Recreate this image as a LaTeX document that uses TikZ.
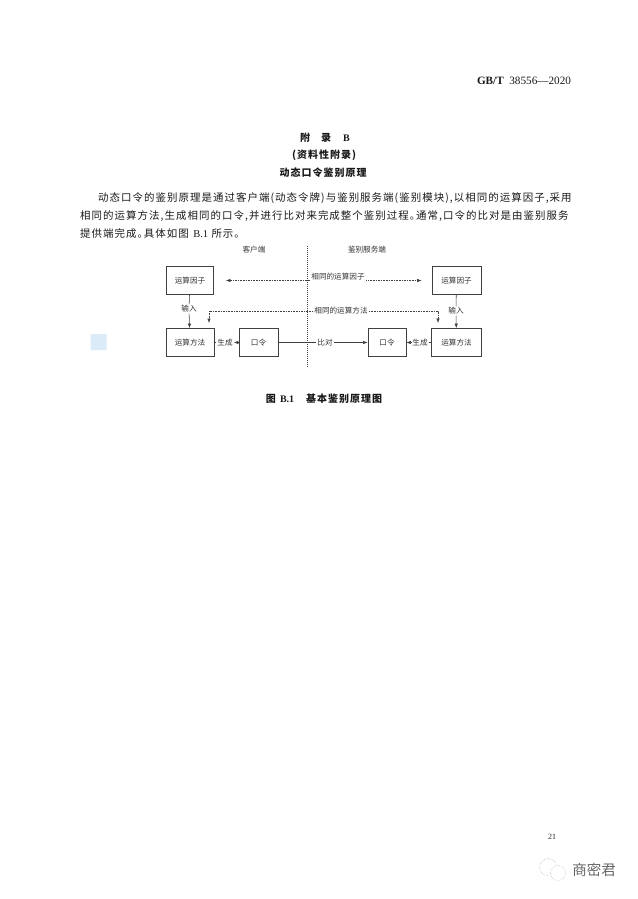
\documentclass[tikz,border=0pt]{standalone}
\usepackage{fontspec}
\setmainfont{Liberation Serif}
\newfontfamily\cjk[RawFeature={+halt},LetterSpace=10]{Noto Sans CJK SC}
\newfontfamily\cjkplain{Noto Sans CJK SC}
\usepackage{tikz}
\usetikzlibrary{arrows.meta}
\definecolor{logoblue}{rgb}{0.86,0.92,0.97}
\tikzset{
  box/.style={draw=black!75,line width=0.7pt,minimum height=28pt,font=\fontsize{7.6}{9}\cjkplain,text=black!80},
  lab/.style={fill=white,inner sep=1pt,font=\fontsize{7.6}{9}\cjkplain,text=black!80},
  solidline/.style={draw=black!75,line width=0.55pt},
  dashline/.style={draw=black!75,line width=0.55pt,dash pattern=on 1.6pt off 1pt},
  bodyline/.style={anchor=west,inner sep=0pt,font=\fontsize{10.45}{12}\cjk,text=black!90},
  headline/.style={inner sep=0pt,font=\fontsize{10}{12}\cjk\bfseries,text=black!90}
}
\begin{document}
\begin{tikzpicture}[x=1pt,y=-1pt,>={Latex[length=4.5pt,width=3.4pt]}]
\useasboundingbox [fill=white] (0,0) rectangle (637,899);
% page head and appendix titles
\node [inner sep=0pt,text=black!90,font=\fontsize{11.2}{13}\selectfont] (std) at (524,81) {\textbf{GB/T}\ \ 38556---2020};
\node [headline] (app) at (325,138) {附\hspace{1.1em}录\hspace{1.1em}\textrm{B}};
\node [headline] (kind) at (324,155) {(资料性附录)};
\node [headline] (title) at (323,173) {动态口令鉴别原理};
% body text
\node [bodyline] (la) at (98,198) {动态口令的鉴别原理是通过客户端(动态令牌)与鉴别服务端(鉴别模块),以相同的运算因子,采用};
\node [bodyline] (lb) at (80,216) {相同的运算方法,生成相同的口令,并进行比对来完成整个鉴别过程。通常,口令的比对是由鉴别服务};
\node [bodyline] (lc) at (80,234) {提供端完成。具体如图 \textrm{B.1} 所示。};
% the two sides
\coordinate (mt) at (307,246);
\coordinate (mb) at (307,367);
\draw [dashline,dash pattern=on 1pt off 1pt] (mt) -- (mb);
\node [lab] (cl) at (254,250) {客户端};
\node [lab] (sv) at (367,250) {鉴别服务端};
% boxes
\node [box,minimum width=47pt] (ysl) at (190,280.5) {运算因子};
\node [box,minimum width=49pt] (ysr) at (456.5,280.5) {运算因子};
\node [box,minimum width=48pt,below of=ysl,node distance=62pt] (ffl) {运算方法};
\node [box,minimum width=50pt,below of=ysr,node distance=62pt] (ffr) {运算方法};
\node [box,minimum width=39pt,right of=ffl,node distance=68.5pt] (kll) {口令};
\node [box,minimum width=38pt,left of=ffr,node distance=69.5pt] (klr) {口令};
% same factor, same method
\draw [dashline,<->,shorten <=12pt,shorten >=10pt] (ysl) -- (ysr);
\node [lab] (same) at (338,277) {相同的运算因子};
\coordinate (dl) at (209,323);
\coordinate (dr) at (438,323);
\node [lab] (samef) at (341,311) {相同的运算方法};
\draw [dashline,->] (samef) -| (dl);
\draw [dashline,->] (samef) -| (dr);
% input
\node [lab] (inl) at (189,309) {输入};
\node [lab] (inr) at (456,311) {输入};
\draw [solidline] (ysl) -- (inl);
\draw [solidline,->] (inl) -- (ffl);
\draw [solidline] (ysr) -- (inr);
\draw [solidline,->] (inr) -- (ffr);
% generate and compare
\node [lab] (gl) at (225,342.5) {生成};
\node [lab] (gr) at (420,342.5) {生成};
\node [lab] (cp) at (325,342.5) {比对};
\draw [solidline] (ffl) -- (gl);
\draw [solidline,->] (kll) -- (gl);
\draw [solidline] (ffr) -- (gr);
\draw [solidline,->] (gr) -- (klr);
\draw [solidline] (kll) -- (cp);
\draw [solidline,->] (cp) -- (klr);
% caption and page number
\node [headline] (cap) at (324,399) {图 \textrm{B.1}\hspace{1.2em}基本鉴别原理图};
\node [inner sep=0pt,text=black!85,font=\fontsize{8}{10}\selectfont] (pg) at (552,837) {21};
% stamps
\node [fill=logoblue,rounded corners=1pt,minimum width=16pt,minimum height=16pt] (logo) at (98.5,342) {};
\node [draw=black!40,densely dotted,circle,minimum size=17pt,inner sep=0pt] (wa) at (548,867) {};
\node [draw=black!40,densely dotted,fill=white,circle,minimum size=15pt,inner sep=0pt] (wb) at (558,873) {};
\node [inner sep=0pt,text=black!60,font=\fontsize{14.5}{16}\cjkplain] (mark) at (594,870) {商密君};
\end{tikzpicture}
\end{document}
